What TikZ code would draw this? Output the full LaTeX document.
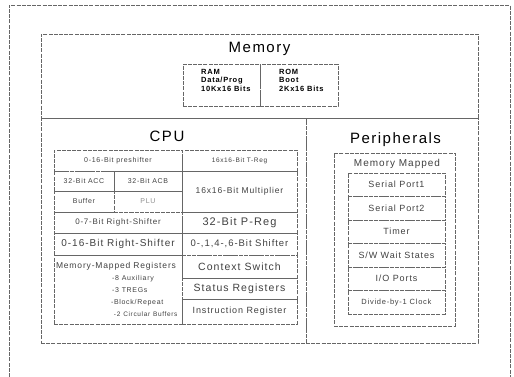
\documentclass[tikz,border=0pt]{standalone}
\usepackage{fontspec}
\setmainfont{Liberation Sans}[LetterSpace=10]
\usetikzlibrary{positioning}

\begin{document}
\begin{tikzpicture}[
  x=1pt, y=-1pt,
  frame/.style={draw=black!60, line width=0.6pt, dash pattern=on 4pt off 1.2pt},
  region/.style={
    frame, rectangle, inner sep=0pt, outer sep=0pt, anchor=north west
  },
  cell/.style={
    region, align=center, text=black!75,
    font=\fontsize{8}{9}\selectfont
  },
  title/.style={anchor=base, inner sep=0pt, font=\fontsize{15}{17}\selectfont},
  romram/.style={
    anchor=north west, inner sep=0pt, align=left,
    font=\bfseries\fontsize{7.5}{8.5}\selectfont
  }
]
\useasboundingbox (0,0) rectangle (514,377);

%% Outer frame
\draw[frame] (9,377) -- (9,5) -- (510,5) -- (510,377);

%% Main regions
\node[region, minimum width=437pt, minimum height=84pt] (memory) at (41,34) {};
\node[region, minimum width=265pt, minimum height=225pt] (cpu) at (41,118) {};
\node[region, minimum width=172pt, minimum height=225pt] (periph) at (306,118) {};

\node[title] (memtitle) at (259.5,53) {Memory};
\node[title] (cputitle) at (167,142) {CPU};
\node[title] (pertitle) at (395.5,143) {Peripherals};

%% Memory
\node[region, minimum width=77pt, minimum height=42pt] (ram) at (183,64) {};
\node[region, minimum width=78pt, minimum height=42pt] (rom) at (260,64) {};
\node[romram] (ramtext) at (201,69) {RAM\\Data/Prog\\10Kx16 Bits};
\node[romram] (romtext) at (279,69) {ROM\\Boot\\2Kx16 Bits};

%% CPU
\node[cell, minimum width=128pt, minimum height=21pt, font=\fontsize{7}{8}\selectfont]
  (preshift) at (54,150) {0-16-Bit preshifter};
\node[cell, minimum width=115pt, minimum height=21pt, font=\fontsize{6.5}{7}\selectfont]
  (treg) at (182,150) {16x16-Bit T-Reg};
\node[cell, minimum width=60pt, minimum height=20pt, font=\fontsize{7}{8}\selectfont]
  (acc) at (54,171) {32-Bit ACC};
\node[cell, minimum width=68pt, minimum height=20pt, font=\fontsize{7}{8}\selectfont]
  (acb) at (114,171) {32-Bit ACB};
\node[cell, minimum width=60pt, minimum height=21pt, font=\fontsize{7}{8}\selectfont]
  (buffer) at (54,191) {Buffer};
\node[cell, minimum width=68pt, minimum height=21pt, font=\fontsize{7}{8}\selectfont,
  text=black!45] (plu) at (114,191) {PLU};
\node[cell, minimum width=115pt, minimum height=41pt, font=\fontsize{8.5}{9}\selectfont]
  (mult) at (182,171) {16x16-Bit Multiplier};
\node[cell, minimum width=128pt, minimum height=21pt]
  (rshift7) at (54,212) {0-7-Bit Right-Shifter};
\node[cell, minimum width=115pt, minimum height=21pt, font=\fontsize{11}{12}\selectfont]
  (preg) at (182,212) {32-Bit P-Reg};
\node[cell, minimum width=128pt, minimum height=22pt, font=\fontsize{10}{11}\selectfont]
  (rshift16) at (54,233) {0-16-Bit Right-Shifter};
\node[cell, minimum width=115pt, minimum height=22pt, font=\fontsize{9.5}{10}\selectfont]
  (pshift) at (182,233) {0-,1,4-,6-Bit Shifter};
\node[cell, minimum width=128pt, minimum height=69pt, text width=124pt, align=left,
  font=\fontsize{8.5}{12}\selectfont] (mmregs) at (54,255) {%
  Memory-Mapped Registers\\
  \hspace*{56pt}{\fontsize{7}{12}\selectfont -8 Auxiliary}\\
  \hspace*{56pt}{\fontsize{7}{12}\selectfont -3 TREGs}\\
  \hspace*{55pt}{\fontsize{7}{12}\selectfont -Block/Repeat}\\
  \hspace*{58pt}{\fontsize{6.5}{12}\selectfont -2 Circular Buffers}};
\node[cell, minimum width=115pt, minimum height=23pt, font=\fontsize{10.5}{11}\selectfont]
  (context) at (182,255) {Context Switch};
\node[cell, minimum width=115pt, minimum height=21pt, font=\fontsize{10.5}{11}\selectfont,
  below=0pt of context] (status) {Status Registers};
\node[cell, minimum width=115pt, minimum height=25pt, font=\fontsize{9}{10}\selectfont,
  below=0pt of status] (instr) {Instruction Register};

%% Peripherals
\node[region, minimum width=121pt, minimum height=173pt] (mmapped) at (334,153) {};
\node[anchor=base, inner sep=0pt, text=black!75, font=\fontsize{10}{11}\selectfont]
  (mmtitle) at (397,166) {Memory Mapped};
\node[cell, minimum width=97pt, minimum height=23.5pt, font=\fontsize{9}{10}\selectfont]
  (serial1) at (348,173) {Serial Port1};
\node[cell, minimum width=97pt, minimum height=23.5pt, font=\fontsize{9}{10}\selectfont,
  below=0pt of serial1] (serial2) {Serial Port2};
\node[cell, minimum width=97pt, minimum height=23.5pt, font=\fontsize{9}{10}\selectfont,
  below=0pt of serial2] (timer) {Timer};
\node[cell, minimum width=97pt, minimum height=23.5pt, font=\fontsize{9}{10}\selectfont,
  below=0pt of timer] (wait) {S/W Wait States};
\node[cell, minimum width=97pt, minimum height=23.5pt, font=\fontsize{9}{10}\selectfont,
  below=0pt of wait] (ioports) {I/O Ports};
\node[cell, minimum width=97pt, minimum height=23.5pt, font=\fontsize{7.5}{8}\selectfont,
  below=0pt of ioports] (divider) {Divide-by-1 Clock};

\end{tikzpicture}
\end{document}
